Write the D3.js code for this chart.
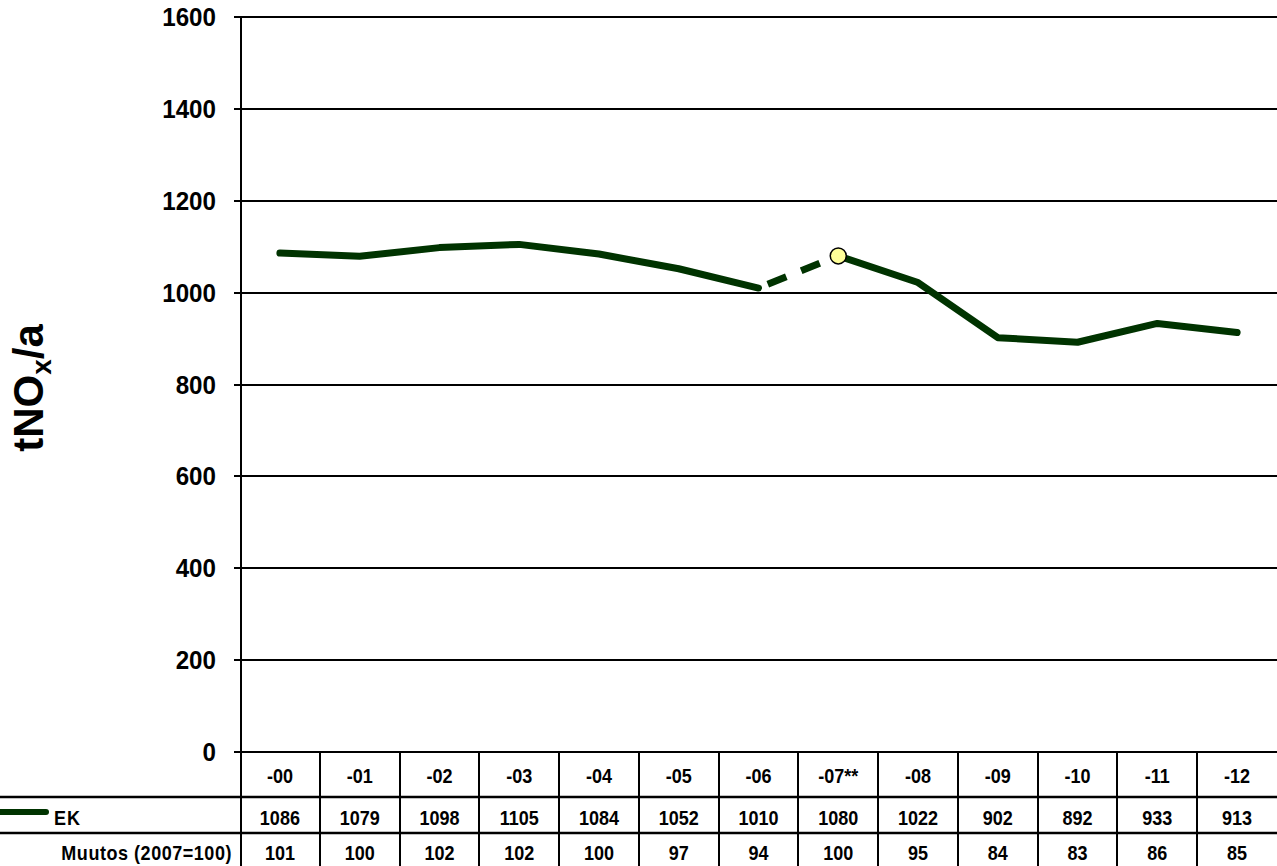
<!DOCTYPE html>
<html>
<head>
<meta charset="utf-8">
<script src="https://cdn.jsdelivr.net/npm/d3@7"></script>
<style>
  html, body { margin: 0; padding: 0; background: #fff; }
  svg { display: block; font-family: Arial, "Liberation Sans", sans-serif; }
</style>
</head>
<body>
<svg id="chart" width="1277" height="866"></svg>
<script>
// Annual NOx emissions (t/a), with index relative to 2007
const years = ["-00", "-01", "-02", "-03", "-04", "-05", "-06", "-07**", "-08", "-09", "-10", "-11", "-12"];
const ekValues = [1086, 1079, 1098, 1105, 1084, 1052, 1010, 1080, 1022, 902, 892, 933, 913];
const changeIndex = [101, 100, 102, 102, 100, 97, 94, 100, 95, 84, 83, 86, 85];
const yTicks = [0, 200, 400, 600, 800, 1000, 1200, 1400, 1600];
const seriesName = "EK";
const changeLabel = "Muutos (2007=100)";
const dashedFrom = 6; // segment -06 → -07** drawn dashed
const markerIndex = 7;

const W = 1277, H = 866;
const plot = { left: 240, right: 1277, top: 17, bottom: 752 };
const rowLines = [797, 833];
const lineColor = "#003300";
const narrow = 0.9; // condensed horizontal text scale

const svg = d3.select("#chart");

const x = d3.scaleBand().domain(years).range([plot.left, plot.right]).paddingInner(0).paddingOuter(0);
const y = d3.scaleLinear().domain([0, 1600]).range([plot.bottom, plot.top]);
const cx = d => x(d) + x.bandwidth() / 2;

// place condensed text at (px, py)
const at = (px, py) => `translate(${px},${py}) scale(${narrow},1)`;

// Horizontal gridlines
svg.append("g")
  .selectAll("line")
  .data(yTicks)
  .join("line")
  .attr("x1", plot.left - 6)
  .attr("x2", plot.right)
  .attr("y1", d => Math.round(y(d)))
  .attr("y2", d => Math.round(y(d)))
  .attr("stroke", "#000")
  .attr("stroke-width", 2);

// Y axis line
svg.append("line")
  .attr("x1", plot.left + 1).attr("x2", plot.left + 1)
  .attr("y1", plot.top).attr("y2", plot.bottom)
  .attr("stroke", "#000").attr("stroke-width", 2);

// Y tick labels
svg.append("g")
  .selectAll("text")
  .data(yTicks)
  .join("text")
  .attr("transform", d => `translate(216,${y(d) + 9}) scale(0.93,1)`)
  .attr("text-anchor", "end")
  .attr("font-size", 26)
  .attr("font-weight", "bold")
  .text(d => d);

// Y axis title
svg.append("text")
  .attr("transform", "translate(43,388) rotate(-90)")
  .attr("text-anchor", "middle")
  .attr("font-size", 42)
  .attr("font-weight", "bold")
  .call(t => {
    t.append("tspan").text("tNO");
    t.append("tspan").attr("font-size", 28).attr("dy", 8).text("x");
    t.append("tspan").attr("dy", -8).text("/a");
  });

// Data table grid
const tableTop = plot.bottom, tableBottom = H;
const table = svg.append("g");
table.selectAll("line.row")
  .data(rowLines)
  .join("line")
  .attr("x1", 0).attr("x2", W)
  .attr("y1", d => d).attr("y2", d => d)
  .attr("stroke", "#000").attr("stroke-width", 2.5);

const colEdges = years.map(d => x(d)).concat([plot.right]);
table.selectAll("line.col")
  .data(colEdges.slice(1, -1))
  .join("line")
  .attr("x1", d => Math.round(d)).attr("x2", d => Math.round(d))
  .attr("y1", tableTop).attr("y2", tableBottom)
  .attr("stroke", "#000").attr("stroke-width", 2);
table.append("line")
  .attr("x1", plot.left + 1).attr("x2", plot.left + 1)
  .attr("y1", tableTop).attr("y2", tableBottom)
  .attr("stroke", "#000").attr("stroke-width", 2);

const cellFont = 20;
// Year row
table.selectAll("text.year")
  .data(years)
  .join("text")
  .attr("transform", d => at(cx(d), 783))
  .attr("text-anchor", "middle")
  .attr("font-size", cellFont)
  .attr("font-weight", "bold")
  .text(d => d);

// Value row
table.selectAll("text.val")
  .data(ekValues)
  .join("text")
  .attr("transform", (d, i) => at(cx(years[i]), 825))
  .attr("text-anchor", "middle")
  .attr("font-size", cellFont)
  .attr("font-weight", "bold")
  .text(d => d);

// Index row
table.selectAll("text.idx")
  .data(changeIndex)
  .join("text")
  .attr("transform", (d, i) => at(cx(years[i]), 860))
  .attr("text-anchor", "middle")
  .attr("font-size", cellFont)
  .attr("font-weight", "bold")
  .text(d => d);

// Row headers
table.append("line")
  .attr("x1", -4).attr("x2", 46)
  .attr("y1", 812).attr("y2", 812)
  .attr("stroke", lineColor).attr("stroke-width", 6)
  .attr("stroke-linecap", "round");
table.append("text")
  .attr("transform", at(54, 825))
  .attr("font-size", cellFont).attr("font-weight", "bold")
  .attr("letter-spacing", 1)
  .text(seriesName);
table.append("text")
  .attr("transform", at(232, 860))
  .attr("text-anchor", "end")
  .attr("font-size", cellFont).attr("font-weight", "bold")
  .attr("letter-spacing", 0.6)
  .text(changeLabel);

// Series line
const pts = ekValues.map((v, i) => [cx(years[i]), y(v)]);
const line = d3.line();
const seg1 = pts.slice(0, dashedFrom + 1);
const segDash = pts.slice(dashedFrom, dashedFrom + 2);
const seg2 = pts.slice(dashedFrom + 1);

const lines = svg.append("g")
  .attr("fill", "none")
  .attr("stroke", lineColor)
  .attr("stroke-width", 7)
  .attr("stroke-linecap", "round")
  .attr("stroke-linejoin", "round");
lines.append("path").attr("d", line(seg1));
lines.append("path").attr("d", line(seg2));
lines.append("path").attr("d", line(segDash))
  .attr("stroke-linecap", "butt")
  .attr("stroke-dasharray", "0,10,20,6");

// Highlighted reference year marker
svg.append("circle")
  .attr("cx", pts[markerIndex][0])
  .attr("cy", pts[markerIndex][1])
  .attr("r", 8)
  .attr("fill", "#ffff99")
  .attr("stroke", "#000")
  .attr("stroke-width", 1.5);
</script>
</body>
</html>
